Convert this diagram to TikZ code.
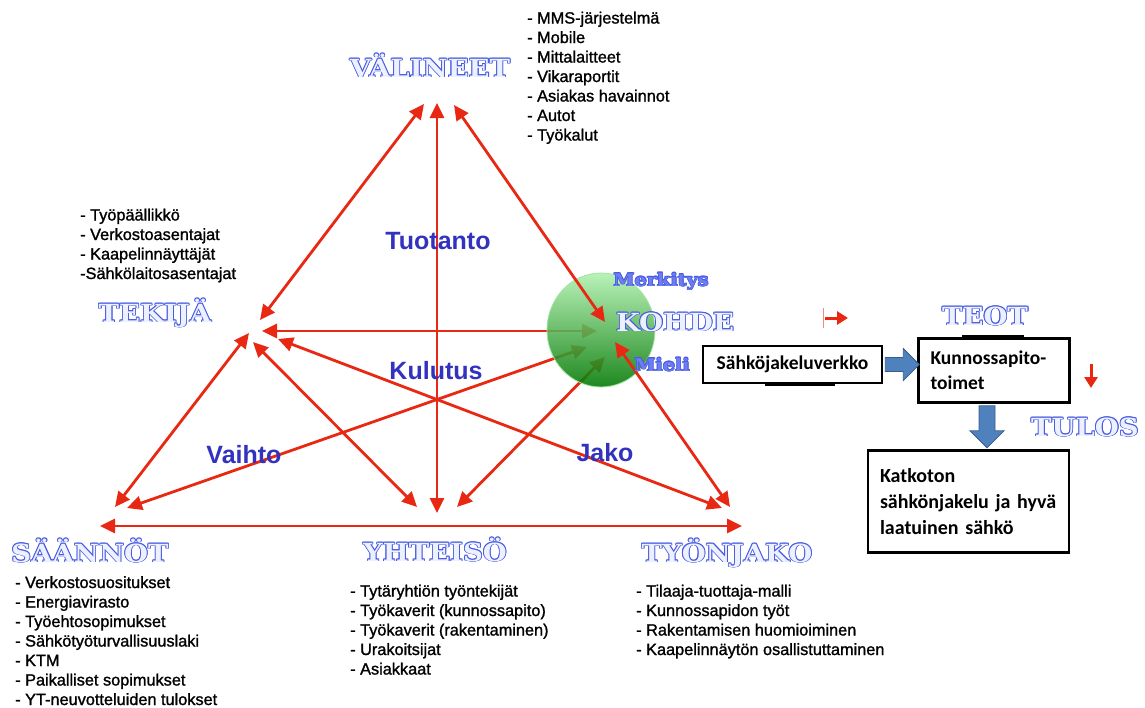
\documentclass[tikz,border=0pt]{standalone}
\usepackage{fontspec}
\setmainfont{Liberation Sans}
\newfontfamily\listfont[FakeBold=1.3]{Liberation Sans}
\newfontfamily\ttlfont[FakeStretch=1.1]{DejaVu Serif}
\newfontfamily\boxfont{Carlito}
\usetikzlibrary{arrows.meta,calc}

\definecolor{arrred}{RGB}{232,40,18}
\definecolor{ttlblue}{RGB}{70,90,225}
\definecolor{ttlfill}{RGB}{236,240,255}
\definecolor{smallfill}{RGB}{110,125,240}
\definecolor{lblblue}{RGB}{50,50,190}
\definecolor{blockblue}{RGB}{79,129,189}
\definecolor{blockedge}{RGB}{56,93,138}
\definecolor{ballhi}{RGB}{175,240,175}
\definecolor{ballmid}{RGB}{70,200,70}
\definecolor{balllo}{RGB}{0,120,0}

% outlined lettering: #1 stroke offset, #2 inner colour, #3 text
\newcommand\outlinetext[3]{{\setbox0\hbox{#3}\color{ttlblue}%
  \rlap{\kern-#1\copy0}\rlap{\kern#1\copy0}%
  \rlap{\raise#1\copy0}\rlap{\lower#1\copy0}%
  \rlap{\kern-#1\raise#1\copy0}\rlap{\kern#1\raise#1\copy0}%
  \rlap{\kern-#1\lower#1\copy0}\rlap{\kern#1\lower#1\copy0}%
  {\color{#2}\box0}}}

\begin{document}
\begin{tikzpicture}[x=1pt,y=-1pt,
  ttl/.style={inner sep=0pt,anchor=base,font=\ttlfont\bfseries\fontsize{25}{30}\selectfont},
  smallttl/.style={inner sep=0pt,anchor=base,font=\ttlfont\bfseries\fontsize{17.5}{20}\selectfont},
  itemlist/.style={inner sep=0pt,anchor=base west,font=\listfont\fontsize{16.3}{19.5}\selectfont},
  lbl/.style={inner sep=0pt,text=lblblue,font=\bfseries\fontsize{25}{30}\selectfont},
  redarr/.style={draw=arrred,line width=2.8pt,
    {Triangle[length=15pt,width=14pt]}-{Triangle[length=15pt,width=14pt]}},
  smallarr/.style={draw=arrred,line width=3pt,-{Triangle[length=11pt,width=13pt]}},
  framebox/.style={draw=black,line width=2.6pt,inner sep=0pt,
    font=\boxfont\bfseries\fontsize{19.5}{25}\selectfont},
  blockarrow/.style={fill=blockblue,draw=blockedge,line width=0.8pt}]

\useasboundingbox (0,0) rectangle (1145,707);

% ---- arrow end points around the corners ----
\coordinate (tA) at (424,104);
\coordinate (tB) at (437,103);
\coordinate (tC) at (454,105);
\coordinate (kA) at (605,322);
\coordinate (kB) at (597,331);
\coordinate (kC) at (587,347);
\coordinate (kD) at (605,357);
\coordinate (kE) at (615,342);
\coordinate (eA) at (260,320);
\coordinate (eB) at (262,331);
\coordinate (eC) at (249,333);
\coordinate (eD) at (253,342);
\coordinate (eE) at (278,339);
\coordinate (sA) at (115,507);
\coordinate (sB) at (127,508);
\coordinate (sC) at (100,526);
\coordinate (yA) at (417,507);
\coordinate (yB) at (437,513);
\coordinate (yC) at (457,507);
\coordinate (jA) at (722,508);
\coordinate (jB) at (730,507);
\coordinate (jC) at (742,526);

% ---- triangle connectors (below the sphere) ----
\draw[redarr] (eA) -- (tA);
\draw[redarr] (yB) -- (tB);
\draw[redarr] (eB) -- (kB);
\draw[redarr] (sA) -- (eC);
\draw[redarr] (eD) -- (yA);
\draw[redarr] (eE) -- (jA);
\draw[redarr] (sB) -- (kC);
\draw[redarr] (yC) -- (kD);
\draw[redarr] (sC) -- (jC);

% ---- sphere ----
\path[top color=ballhi,middle color=ballmid,bottom color=balllo,opacity=0.88]
  (601,330) ellipse [x radius=54,y radius=57];
\draw[ballmid!50!white,line width=0.8pt] (601,330) ellipse [x radius=54,y radius=57];

% ---- connectors drawn over the sphere ----
\draw[redarr] (tC) -- (kA);
\draw[redarr] (jB) -- (kE);

% ---- corner titles ----
\node[ttl] (valineet) at (430,77) {\outlinetext{0.8pt}{ttlfill}{VÄLINEET}};
\node[ttl] (tekija) at (155,322) {\outlinetext{0.8pt}{ttlfill}{TEKIJÄ}};
\node[ttl] (kohde) at (675,331) {\outlinetext{0.8pt}{ttlfill}{KOHDE}};
\node[ttl] (saannot) at (90,562) {\outlinetext{0.8pt}{ttlfill}{SÄÄNNÖT}};
\node[ttl] (yhteiso) at (435,561) {\outlinetext{0.8pt}{ttlfill}{YHTEISÖ}};
\node[ttl] (tyonjako) at (727,562) {\outlinetext{0.8pt}{ttlfill}{TYÖNJAKO}};
\node[ttl] (teot) at (985,325) {\outlinetext{0.8pt}{ttlfill}{TEOT}};
\node[ttl] (tulos) at (1085,436) {\outlinetext{0.8pt}{ttlfill}{TULOS}};
\node[smallttl] (merkitys) at (661,286) {\outlinetext{0.6pt}{smallfill}{Merkitys}};
\node[smallttl] (mieli) at (662,371) {\outlinetext{0.6pt}{smallfill}{Mieli}};

% ---- activity labels ----
\node[lbl] (tuotanto) at (438,241) {Tuotanto};
\node[lbl] (kulutus) at (436,371) {Kulutus};
\node[lbl] (vaihto) at (244,455) {Vaihto};
\node[lbl] (jako) at (605,453) {Jako};

% ---- item lists ----
\node[itemlist] (listV) at (527,23.5) {\begin{tabular}[t]{@{}l@{}}
- MMS-järjestelmä\\ - Mobile\\ - Mittalaitteet\\ - Vikaraportit\\
- Asiakas havainnot\\ - Autot\\ - Työkalut\end{tabular}};
\node[itemlist] (listT) at (80,220.5) {\begin{tabular}[t]{@{}l@{}}
- Työpäällikkö\\ - Verkostoasentajat\\ - Kaapelinnäyttäjät\\
-Sähkölaitosasentajat\end{tabular}};
\node[itemlist] (listS) at (15,588) {\begin{tabular}[t]{@{}l@{}}
- Verkostosuositukset\\ - Energiavirasto\\ - Työehtosopimukset\\
- Sähkötyöturvallisuuslaki\\ - KTM\\ - Paikalliset sopimukset\\
- YT-neuvotteluiden tulokset\end{tabular}};
\node[itemlist] (listY) at (350,596.5) {\begin{tabular}[t]{@{}l@{}}
- Tytäryhtiön työntekijät\\ - Työkaverit (kunnossapito)\\
- Työkaverit (rakentaminen)\\ - Urakoitsijat\\ - Asiakkaat\end{tabular}};
\node[itemlist] (listJ) at (636,596.5) {\begin{tabular}[t]{@{}l@{}}
- Tilaaja-tuottaja-malli\\ - Kunnossapidon työt\\
- Rakentamisen huomioiminen\\ - Kaapelinnäytön osallistuttaminen\end{tabular}};

% ---- process boxes ----
\node[framebox,minimum width=179,minimum height=37] (verkko) at (792.5,364.5)
  {Sähköjakeluverkko};
\node[framebox,minimum width=151,minimum height=64,text width=127,align=left,
  inner xsep=12pt] (toimet) at (994,370.5) {Kunnossapito-\\toimet};
\node[framebox,minimum width=201,minimum height=102,text width=177,align=left,
  inner xsep=12pt,font=\boxfont\bfseries\fontsize{20}{26}\selectfont] (tulosbox)
  at (968.5,501.5) {Katkoton\\sähkönjakelu ja hyvä\\laatuinen sähkö};

% heavier edge pieces on the frames
\draw[line width=4pt] ($(toimet.north)+(-32,0)$) -- ($(toimet.north)+(30,0)$);
\draw[line width=4pt] ($(verkko.south)+(-28,0)$) -- ($(verkko.south)+(42,0)$);

% ---- block arrows between boxes ----
\draw[blockarrow,shift={(verkko.east)}]
  (2,-7) -- (20,-7) -- (20,-16) -- (36,0) -- (20,16) -- (20,7) -- (2,7) -- cycle;
\draw[blockarrow,shift={(toimet.south)}]
  (-15,2) -- (1,2) -- (1,27) -- (10,27) -- (-7,44) -- (-24,27) -- (-15,27) -- cycle;

% ---- small red pointers ----
\coordinate (pA) at (825,318);
\coordinate (pB) at (848,318);
\coordinate (pC) at (1091,364);
\coordinate (pD) at (1091,388);
\draw[arrred!55!white,line width=0.7pt] (823,308) -- (823,328);
\draw[smallarr] (pA) -- (pB);
\draw[smallarr] (pC) -- (pD);

\end{tikzpicture}
\end{document}
